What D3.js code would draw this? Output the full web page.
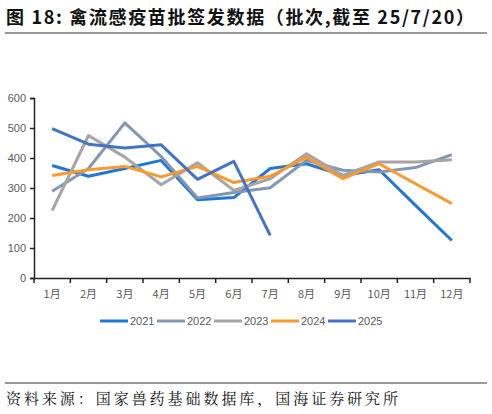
<!DOCTYPE html>
<html>
<head>
<meta charset="utf-8">
<script src="https://cdn.jsdelivr.net/npm/d3@7"></script>
<style>
  body { margin: 0; background: #fff; }
  svg { display: block; }
</style>
</head>
<body>
<div id="chart"></div>
<script>
// 数据 (批次)
const months = ["1月","2月","3月","4月","5月","6月","7月","8月","9月","10月","11月","12月"];
const years = ["2021","2022","2023","2024","2025"];
const v2021 = [375, 339, 365, 392, 261, 268, 365, 381, 342, 361, 242, 125];
const v2022 = [289, 365, 517, 405, 267, 285, 301, 392, 359, 353, 368, 411];
const v2023 = [225, 475, 403, 311, 384, 292, 331, 414, 342, 387, 387, 394];
const v2024 = [342, 361, 372, 337, 372, 318, 339, 403, 331, 381, 314, 248];
const v2025 = [498, 446, 433, 444, 329, 389, 142];
const yTicks = [0, 100, 200, 300, 400, 500, 600];
const colors = ["#1f78d4", "#8497b0", "#a5a5a5", "#f99a2e", "#4472c4"];

const series = [v2021, v2022, v2023, v2024, v2025].map((vals, i) => ({
  key: years[i],
  values: vals.map((v, j) => ({ m: months[j], v: v }))
}));

const width = 492, height = 414;
const margin = { top: 98, right: 22, bottom: 136, left: 34 };

const svg = d3.select("#chart").append("svg")
  .attr("width", width)
  .attr("height", height);

// 标题
svg.append("text")
  .attr("x", 6)
  .attr("y", 24)
  .attr("textLength", 468)
  .attr("lengthAdjust", "spacing")
  .style("font-family", "'Noto Sans CJK SC', sans-serif")
  .style("font-weight", "bold")
  .style("font-size", "18px")
  .attr("fill", "#111")
  .text("图 18: 禽流感疫苗批签发数据（批次,截至 25/7/20）");

svg.append("line")
  .attr("x1", 5).attr("x2", 487)
  .attr("y1", 33).attr("y2", 33)
  .attr("stroke", "#777").attr("stroke-width", 1.5);

// 比例尺
const x = d3.scaleBand()
  .domain(months)
  .range([margin.left, width - margin.right]);

const y = d3.scaleLinear()
  .domain([0, 600])
  .range([height - margin.bottom, margin.top]);

// 坐标轴
const gx = svg.append("g")
  .attr("transform", `translate(0,${height - margin.bottom})`)
  .call(d3.axisBottom(x).tickSizeOuter(0).tickSize(0).tickPadding(12));
gx.select(".domain").attr("stroke", "#222").attr("stroke-width", 1.5);
gx.selectAll("text")
  .style("font-family", "'Noto Sans CJK SC', sans-serif")
  .style("font-size", "11px")
  .attr("fill", "#595959");
// 分类边界刻度
gx.selectAll(".sep")
  .data(months.concat([null]))
  .join("line")
  .attr("class", "sep")
  .attr("x1", (d, i) => margin.left + i * x.bandwidth())
  .attr("x2", (d, i) => margin.left + i * x.bandwidth())
  .attr("y1", 0).attr("y2", 5)
  .attr("stroke", "#222").attr("stroke-width", 1.5);

const gy = svg.append("g")
  .attr("transform", `translate(${margin.left},0)`)
  .call(d3.axisLeft(y).tickValues(yTicks).tickSizeOuter(0).tickSize(4).tickPadding(4));
gy.select(".domain").attr("stroke", "#222").attr("stroke-width", 1.5);
gy.selectAll(".tick line").attr("stroke", "#222").attr("stroke-width", 1.5);
gy.selectAll("text")
  .style("font-family", "'Liberation Sans', Arial, sans-serif")
  .style("font-size", "11px")
  .attr("fill", "#595959");

// 折线
const line = d3.line()
  .x(d => x(d.m) + x.bandwidth() / 2)
  .y(d => y(d.v));

svg.append("g")
  .selectAll("path")
  .data(series)
  .join("path")
  .attr("d", d => line(d.values))
  .attr("fill", "none")
  .attr("stroke", (d, i) => colors[i])
  .attr("stroke-width", 3)
  .attr("stroke-linejoin", "round");

// 图例
const legend = svg.append("g")
  .attr("transform", "translate(100,321)");

years.forEach((k, i) => {
  const g = legend.append("g").attr("transform", `translate(${i * 57},0)`);
  g.append("line")
    .attr("x1", 0).attr("x2", 28)
    .attr("y1", 0).attr("y2", 0)
    .attr("stroke", colors[i]).attr("stroke-width", 3);
  g.append("text")
    .attr("x", 30).attr("y", 4)
    .style("font-family", "'Liberation Sans', Arial, sans-serif")
    .style("font-size", "11px")
    .attr("fill", "#595959")
    .text(k);
});

// 资料来源
svg.append("line")
  .attr("x1", 5).attr("x2", 487)
  .attr("y1", 383).attr("y2", 383)
  .attr("stroke", "#777").attr("stroke-width", 1.5);

svg.append("text")
  .attr("x", 6)
  .attr("y", 404)
  .attr("textLength", 392)
  .attr("lengthAdjust", "spacing")
  .style("font-family", "'Noto Serif CJK SC', 'Noto Sans CJK SC', serif")
  .style("font-size", "15px")
  .attr("fill", "#111")
  .text("资料来源：国家兽药基础数据库，国海证券研究所");
</script>
</body>
</html>
